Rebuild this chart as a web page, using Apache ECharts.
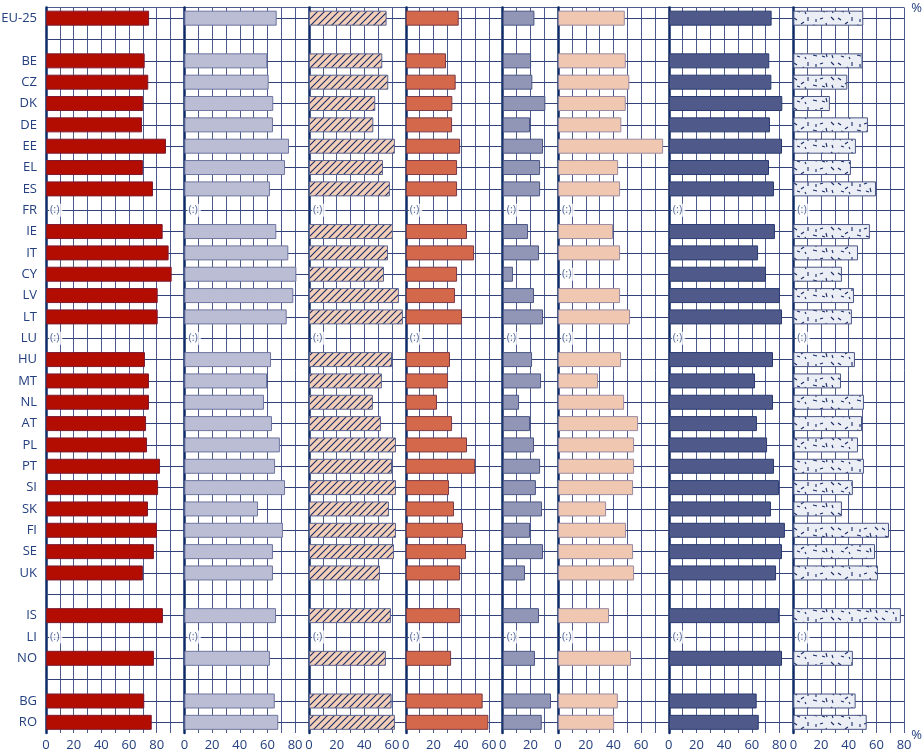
<!DOCTYPE html>
<html><head><meta charset="utf-8">
<script src="https://cdn.jsdelivr.net/npm/echarts@6/dist/echarts.min.js"></script>
<style>html,body{margin:0;padding:0;background:#fff}#c{width:924px;height:754px}</style>
</head><body><div id="c"></div>
<script>
// ---- DATA ----
const categories = ['EU-25','gap1','BE','CZ','DK','DE','EE','EL','ES','FR','IE','IT','CY','LV','LT','LU','HU','MT','NL','AT','PL','PT','SI','SK','FI','SE','UK','gap2','IS','LI','NO','gap3','BG','RO'];
const gapRows = ['gap1','gap2','gap3'];
const panel1 = [74.5,null,71.3,73.9,70.3,69.4,86.7,70,77.3,null,84.3,88.6,90.8,80.7,80.7,null,71.5,74.4,74.4,72.3,73,82.4,81,73.7,80.2,78,70,null,84.5,null,78,null,71,76.4];
const panel2 = [66.7,null,59.9,60.9,64.2,64,75.6,72.7,61.8,null,66.4,75.1,80.9,78.7,73.9,null,62.6,59.7,57.5,63.3,69,65.5,72.7,53.2,71.2,64,64,null,66.2,null,61.8,null,65.3,67.8];
const panel3 = [56.1,null,53,57.3,47.9,46.5,62.1,53.5,58.5,null,60.7,57.1,54.2,65,67.9,null,60,52.7,46.2,52,62.9,60,62.9,57.8,62.9,61.4,51.3,null,59.2,null,55.6,null,59.7,62.1];
const panel4 = [38.2,null,29,36,33.6,33.4,39.2,37,37,null,44.2,49.3,37,35.5,40.6,null,31.9,30.5,22.5,33.4,44.2,50,31.2,34.8,41.3,43.5,39.2,null,39.2,null,32.7,null,55.5,59.6];
const panel5 = [22.9,null,20.5,21.4,30.8,19.7,29.1,27,27,null,18.3,26.2,7.4,22.6,29.1,null,21.2,27.7,11.8,19.7,22.6,27,24,28.4,19.7,29.1,16.1,null,26.2,null,23.3,null,34.9,28.2];
const panel6 = [48.2,null,48.9,51.5,48.9,45.7,75.9,43.4,44.8,null,39.7,44.8,null,44.8,52,null,45.5,28.9,47.7,57.8,54.9,54.9,54.2,34.7,49.1,54.2,54.9,null,36.8,null,52.7,null,43.2,40.5];
const panel7 = [74.3,null,72.6,74.1,82,73.1,81.8,72.4,76,null,76.7,64.5,70.2,80.3,81.8,null,75.3,62.3,75.3,63.7,71,76,79.6,73.8,83.9,81.8,77.5,null,79.6,null,81.8,null,63.5,65];
const panel8 = [50.5,null,50,39,26.4,53.9,45.2,41.6,59.7,null,55.3,46.7,35.1,43.8,42.3,null,44.5,34.4,51,49.6,46.7,51,43,35.1,69.1,59,61.1,null,77.7,null,43,null,45,53];
const panelMax = [100,90,70,70,40,80,90,80];
const missingLabel = '(:)';
const unitLabel = '%';

// ---- STYLE ----
const TEXT = '#24407f', GRID = '#4d5b8c', ROW = '#34427a', AXIS = '#0d2a66';
const FONT = 'Open Sans';
const PX = 1.384, LEFT0 = 46, TOP = 7.5, BOTTOM = 21;

function hatch(){
  const c=document.createElement('canvas');c.width=7;c.height=7;
  const g=c.getContext('2d');g.fillStyle='#f4cfb8';g.fillRect(0,0,7,7);
  g.strokeStyle='#1b2c66';g.lineWidth=1.1;g.beginPath();
  g.moveTo(-1,8);g.lineTo(8,-1);g.moveTo(-1,1);g.lineTo(1,-1);g.moveTo(6,8);g.lineTo(8,6);g.stroke();
  return c;
}
function dashes(){
  const c=document.createElement('canvas');c.width=44;c.height=15;
  const g=c.getContext('2d');g.fillStyle='#eceef6';g.fillRect(0,0,44,15);
  g.strokeStyle='#1b2c66';g.lineWidth=1.1;g.beginPath();
  const d=[[2,3,5,5],[9,9,12,7],[16,2,16,6],[21,10,25,11],[28,4,31,3],[34,8,35,12],[39,2,42,5],[5,11,8,12],[13,12,14,14],[24,4,24,7],[30,11,33,12],[40,10,41,13]];
  d.forEach(s=>{g.moveTo(s[0],s[1]);g.lineTo(s[2],s[3]);});g.stroke();
  return c;
}
const panels = [panel1,panel2,panel3,panel4,panel5,panel6,panel7,panel8];
const styles = [
  {color:'#b30c00', borderColor:'#7a1a30'},
  {color:'#babdd3', borderColor:'#6f76a0'},
  {color:{image:hatch(),repeat:'repeat'}, borderColor:'#5a6590'},
  {color:'#d4684a', borderColor:'#7a3a48'},
  {color:'#9196b6', borderColor:'#4a5685'},
  {color:'#f0c8b2', borderColor:'#9a8aa0'},
  {color:'#4f5a8b', borderColor:'#2a3a70'},
  {color:{image:dashes(),repeat:'repeat'}, borderColor:'#4a5685'}
];

const grid=[], xAxis=[], yAxis=[], series=[];
let left = LEFT0;
panels.forEach((vals,i)=>{
  const max = panelMax[i], w = max*PX, last = i===panels.length-1;
  grid.push({left:left, top:TOP, bottom:BOTTOM, width:w, containLabel:false, outerBoundsMode:'none', show:false});
  xAxis.push({type:'value', gridIndex:i, min:0, max:max, interval:10, position:'bottom',
    axisLine:{show:false, onZero:false}, axisTick:{show:false},
    splitLine:{show:true, lineStyle:{color:GRID, width:1}},
    axisLabel:{color:TEXT, fontFamily:FONT, fontSize:13, margin:6, showMinLabel:true, showMaxLabel:true,
      formatter:v=> (v%20===0 && (v<max || last)) ? String(v) : ''}});
  yAxis.push({type:'category', gridIndex:i, data:categories, inverse:true, boundaryGap:true,
    axisLine:{show:true, onZero:false, lineStyle:{color:AXIS, width:2.5}},
    axisTick:{show:false}, splitLine:{show:false},
    axisLabel:{show:i===0, interval:0, color:TEXT, fontFamily:FONT, fontSize:13, margin:9,
      formatter:c=> gapRows.indexOf(c)>=0 ? '' : c}});
  // horizontal rule through each category centre, placed by the axis scales
  series.push({type:'line', xAxisIndex:i, yAxisIndex:i, z:1, silent:true, animation:false, symbol:'none',
    data:[], markLine:{silent:true, symbol:['none','none'], animation:false, z:1, label:{show:false},
      lineStyle:{color:ROW, width:1.1, type:'solid'}, emphasis:{disabled:true},
      data: categories.map((c,k)=>[{coord:[0,k]},{coord:[max,k]}])}});
  series.push({type:'bar', xAxisIndex:i, yAxisIndex:i, barWidth:15, z:2,
    data: vals.map(v=> v==null?'-':v),
    itemStyle:Object.assign({borderWidth:1}, styles[i]), silent:true, animation:false});
  const miss=[];
  vals.forEach((v,k)=>{ if(v==null && gapRows.indexOf(categories[k])<0) miss.push([0,k]); });
  series.push({type:'scatter', xAxisIndex:i, yAxisIndex:i, symbolSize:0, data:miss, z:5, animation:false,
    label:{show:true, position:'right', distance:3, formatter:missingLabel, color:TEXT, fontFamily:FONT, fontSize:11,
      backgroundColor:'#fff', padding:[1,3,1,1]}});
  left += w;
});

const chart = echarts.init(document.getElementById('c'), null, {renderer:'canvas'});
chart.setOption({
  animation:false, backgroundColor:'#fff',
  grid, xAxis, yAxis, series,
  graphic:[
    {type:'rect', silent:true, z:0, shape:{x:LEFT0, y:7, width:left-LEFT0, height:1}, style:{fill:GRID}},
    {type:'text', right:2, top:2, style:{text:unitLabel, fill:TEXT, font:'13px '+FONT}},
    {type:'text', right:2, bottom:12, style:{text:unitLabel, fill:TEXT, font:'13px '+FONT}}
  ]
});
</script></body></html>
